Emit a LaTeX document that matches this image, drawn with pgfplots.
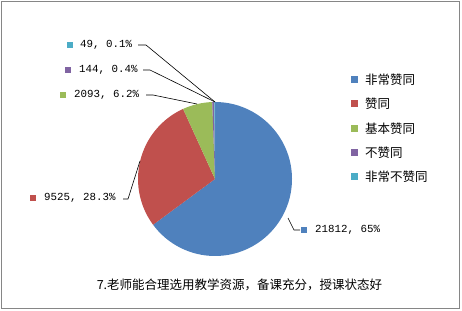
\documentclass[border=0pt]{standalone}
\usepackage{pgfplots}
\usepackage{pgfplotstable}
\pgfplotsset{compat=1.18}
\usepackage{fontspec}
\setmainfont{Noto Sans CJK SC}
\newfontfamily\mono{Liberation Mono}
\definecolor{pieblue}{HTML}{4F81BD}
\definecolor{piered}{HTML}{C0504D}
\definecolor{piegreen}{HTML}{9BBB59}
\definecolor{piepurple}{HTML}{8064A2}
\definecolor{piecyan}{HTML}{4BACC6}
\definecolor{framegray}{HTML}{868686}
\pgfplotstableread{
value color
21812 pieblue
9525 piered
2093 piegreen
144 piepurple
49 piecyan
}\piedata
\begin{document}
\begin{tikzpicture}
% compute total and slice angles (clockwise from the top)
\gdef\pietotal{0}
\pgfplotsforeachungrouped \i in {0,...,4}{%
  \pgfplotstablegetelem{\i}{value}\of\piedata
  \xdef\pietotal{\fpeval{\pietotal+\pgfplotsretval}}%
}
\gdef\curang{90}
\pgfplotsforeachungrouped \i in {0,...,4}{%
  \pgfplotstablegetelem{\i}{value}\of\piedata
  \xdef\endang{\fpeval{round(\curang-\pgfplotsretval/\pietotal*360,4)}}%
  \expandafter\xdef\csname pieS\i\endcsname{\curang}%
  \expandafter\xdef\csname pieE\i\endcsname{\endang}%
  \global\let\curang\endang
}
\begin{axis}[
  scale only axis, width=462pt, height=310pt,
  xmin=0, xmax=462, ymin=0, ymax=310,
  hide axis, clip=false,
]
\path (axis cs:0,0) rectangle (axis cs:462,310);
\draw[framegray, line width=0.8pt] (axis cs:1,2) rectangle (axis cs:459.5,309);
% pie slices
\pgfplotsforeachungrouped \i in {0,...,4}{%
  \pgfplotstablegetelem{\i}{color}\of\piedata
  \edef\tmp{\noexpand\fill[\pgfplotsretval] (axis cs:215,131) -- ++(\csname pieS\i\endcsname:77pt) arc[start angle=\csname pieS\i\endcsname, end angle=\csname pieE\i\endcsname, radius=77pt] -- cycle;}%
  \tmp
}
% leader lines
\draw[black, line width=0.6pt] (axis cs:138,265) -- (axis cs:146,265) -- (axis cs:215,208);
\draw[black, line width=0.6pt] (axis cs:143,240) -- (axis cs:150,240) -- (axis cs:215,208);
\draw[black, line width=0.6pt] (axis cs:146,215) -- (axis cs:153,215) -- (axis cs:197,206);
\draw[black, line width=0.6pt] (axis cs:123,111) -- (axis cs:128,111) -- (axis cs:140,149);
\draw[black, line width=0.6pt] (axis cs:288,92) -- (axis cs:294,80) -- (axis cs:300,80);
% data labels
\fill[piecyan] (axis cs:67,262) rectangle (axis cs:73,268);
\node[anchor=west, inner sep=0pt, font=\mono\fontsize{10.8}{12}\selectfont] at (axis cs:80,265) {49, 0.1\%};
\fill[piepurple] (axis cs:65,237) rectangle (axis cs:71,243);
\node[anchor=west, inner sep=0pt, font=\mono\fontsize{10.8}{12}\selectfont] at (axis cs:79,240) {144, 0.4\%};
\fill[piegreen] (axis cs:60,212) rectangle (axis cs:66,218);
\node[anchor=west, inner sep=0pt, font=\mono\fontsize{10.8}{12}\selectfont] at (axis cs:74,215) {2093, 6.2\%};
\fill[piered] (axis cs:30,109) rectangle (axis cs:36,115);
\node[anchor=west, inner sep=0pt, font=\mono\fontsize{10.8}{12}\selectfont] at (axis cs:44,112) {9525, 28.3\%};
\fill[pieblue] (axis cs:301,77) rectangle (axis cs:307,83);
\node[anchor=west, inner sep=0pt, font=\mono\fontsize{10.8}{12}\selectfont] at (axis cs:315,80) {21812, 65\%};
% legend
\fill[pieblue] (axis cs:351,227) rectangle (axis cs:358,234);
\node[anchor=west, inner sep=0pt, font=\fontsize{12.5}{14}\selectfont] at (axis cs:365,230.5) {非常赞同};
\fill[piered] (axis cs:351,203) rectangle (axis cs:358,210);
\node[anchor=west, inner sep=0pt, font=\fontsize{12.5}{14}\selectfont] at (axis cs:365,206.5) {赞同};
\fill[piegreen] (axis cs:351,178) rectangle (axis cs:358,185);
\node[anchor=west, inner sep=0pt, font=\fontsize{12.5}{14}\selectfont] at (axis cs:365,181.5) {基本赞同};
\fill[piepurple] (axis cs:351,154) rectangle (axis cs:358,161);
\node[anchor=west, inner sep=0pt, font=\fontsize{12.5}{14}\selectfont] at (axis cs:365,157.5) {不赞同};
\fill[piecyan] (axis cs:351,130) rectangle (axis cs:358,137);
\node[anchor=west, inner sep=0pt, font=\fontsize{12.5}{14}\selectfont] at (axis cs:365,133.5) {非常不赞同};
% title
\node[inner sep=0pt, font=\fontsize{12.5}{14}\selectfont] at (axis cs:239.5,25) {7.老师能合理选用教学资源，备课充分，授课状态好};
\end{axis}
\end{tikzpicture}
\end{document}
